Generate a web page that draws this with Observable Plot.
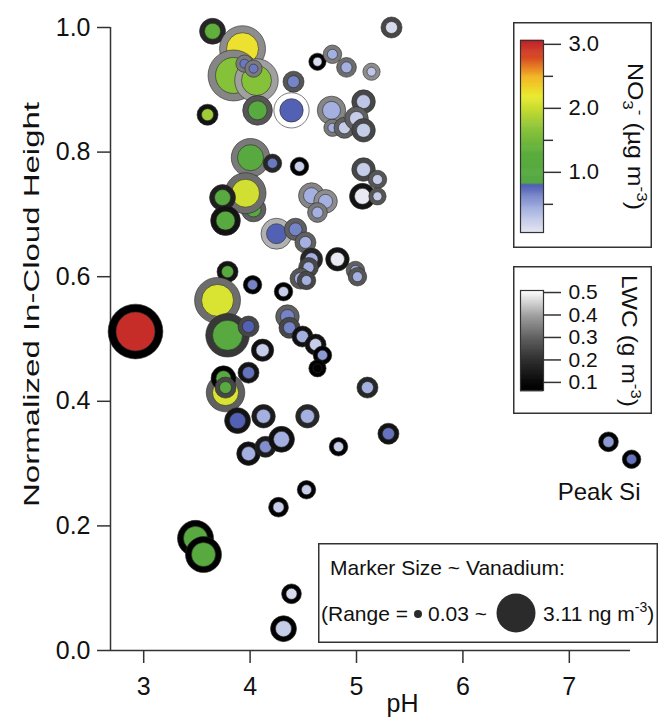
<!DOCTYPE html>
<html><head><meta charset="utf-8">
<script src="https://cdn.jsdelivr.net/npm/d3@7"></script>
<script src="https://cdn.jsdelivr.net/npm/@observablehq/plot@0.6"></script>
<style>
body{margin:0;background:#fff;}
#wrap{position:relative;width:665px;height:721px;font-family:"Liberation Sans",Arial,sans-serif;}
#wrap > *{position:absolute;}
</style></head><body><div id="wrap"></div>
<script>
// ---- data (drawing order) ----
const pH = [5.329,3.647,3.929,3.844,4.06,3.947,4.032,4.633,4.774,4.906,5.141,4.408,4.07,4.389,3.60,4.765,5.066,4.774,4.887,5.0,5.066,4.004,4.21,4.464,4.032,3.957,3.741,3.769,5.066,5.197,5.056,5.197,4.577,4.709,4.633,4.248,4.427,4.52,4.577,4.549,4.474,4.53,4.821,4.99,5.009,3.788,4.023,4.314,3.694,3.788,3.985,4.351,4.37,4.492,4.615,4.68,4.633,4.117,3.985,3.769,3.75,3.769,5.103,3.882,4.126,4.539,3.985,4.145,4.295,4.831,5.30,4.53,4.267,4.389,4.314,3.487,3.562,2.923,7.368,7.585];
const inCloudHeight = [1.0,0.994,0.966,0.923,0.915,0.942,0.934,0.945,0.957,0.936,0.929,0.913,0.867,0.867,0.860,0.867,0.881,0.839,0.839,0.854,0.835,0.791,0.782,0.777,0.708,0.734,0.727,0.690,0.772,0.756,0.729,0.729,0.730,0.721,0.703,0.669,0.676,0.655,0.628,0.615,0.597,0.594,0.628,0.610,0.600,0.608,0.587,0.576,0.562,0.506,0.520,0.536,0.518,0.504,0.491,0.474,0.453,0.482,0.446,0.414,0.437,0.422,0.422,0.369,0.376,0.376,0.316,0.327,0.339,0.327,0.348,0.258,0.230,0.091,0.035,0.180,0.154,0.512,0.335,0.307];
const no3 = [0.15,1.35,2.25,1.65,1.65,0.7,0.7,0.15,0.45,0.45,0.3,0.65,1.1,0.8,1.8,0.45,0.3,0.45,0.25,0.25,0.25,1.1,0.7,0.25,1.1,2.05,1.1,1.1,0.25,0.25,0.05,0.25,0.45,0.45,0.45,0.8,0.65,0.45,0.45,0.45,0.45,0.45,0.05,0.45,0.45,1.1,0.65,0.25,2.1,1.1,0.8,0.65,0.65,0.45,0.25,0.55,null,0.25,0.72,2.1,1.1,1.1,0.45,0.8,0.45,0.45,0.45,0.6,0.45,0.25,0.72,0.25,0.25,0.15,0.25,1.1,1.1,3.0,0.55,0.72];
const lwc = [0.25,0.18,0.37,0.36,0.40,0.34,0.34,0.07,0.34,0.32,0.37,0.28,0.28,0.51,0.13,0.36,0.25,0.34,0.30,0.30,0.25,0.34,0.18,0.07,0.30,0.32,0.16,0.13,0.25,0.28,0.13,0.28,0.36,0.37,0.34,0.42,0.30,0.30,0.18,0.25,0.28,0.25,0.13,0.30,0.28,0.13,0.07,0.07,0.32,0.22,0.25,0.30,0.25,0.12,0.12,0.07,0.07,0.12,0.13,0.30,0.07,0.25,0.18,0.13,0.15,0.18,0.12,0.15,0.12,0.07,0.13,0.07,0.07,0.07,0.07,0.07,0.07,0.065,0.07,0.07];
const vanadium = [0.43,0.82,2.41,2.81,2.22,0.13,0.13,0.13,0.23,0.33,0.13,0.43,1.12,1.56,0.43,1.02,0.63,0.13,0.43,0.63,0.63,1.82,0.23,0.23,0.73,2.02,0.82,1.12,0.63,0.23,0.82,0.13,0.82,0.63,0.33,1.22,0.53,0.43,0.53,0.33,0.43,0.23,0.63,0.23,0.23,0.43,0.23,0.23,2.41,2.22,0.43,0.63,0.43,0.43,0.43,0.23,0.13,0.53,0.43,1.82,0.73,0.43,0.43,0.82,0.63,0.63,0.63,0.43,0.82,0.23,0.43,0.23,0.33,0.33,0.82,1.62,1.62,3.11,0.33,0.23];

const xDomain = [2.688, 7.575];
const yDomain = [0, 1];
const xTicks = [3, 4, 5, 6, 7];
const yTicks = [0, 0.2, 0.4, 0.6, 0.8, 1.0];

const no3Stops  = [0.05, 0.45, 0.82, 0.83, 1.3, 1.7, 2.0, 2.2, 2.5, 2.8, 3.06];
const no3Colors = ["#e8e9f2", "#a4b0e0", "#4d5db2", "#55a845", "#5aac3c", "#8cc43a", "#c8dc32", "#eaea30", "#f2b424", "#d84a24", "#c0242a"];
const no3Domain = [0.06, 3.06];
const no3Ticks = [1, 2, 3];
const no3Minor = [0.5, 1.5, 2.5];

const lwcStops  = [0.064, 0.1, 0.2, 0.3, 0.4, 0.509];
const lwcColors = ["#000000", "#080808", "#2e2e2e", "#606060", "#a0a0a0", "#ffffff"];
const lwcDomain = [0.064, 0.509];
const lwcTicks = [0.1, 0.2, 0.3, 0.4, 0.5];

const vRange = [0.03, 3.11];
const annotations = [{x: 7.28, y: 0.254, text: "Peak Si"}];

// ---- scales from the library ----
const FONT = "'Liberation Sans', Arial, sans-serif";
const no3Scale = Plot.scale({color: {type: "linear", domain: no3Stops, range: no3Colors}});
const lwcScale = Plot.scale({color: {type: "linear", domain: lwcStops, range: lwcColors}});
const rScale = Plot.scale({r: {type: "linear", domain: vRange, range: [4, 19.5]}});

const layers = [];
pH.forEach((x, i) => {
  const rin = rScale.apply(vanadium[i]);
  const ring = lwcScale.apply(lwc[i]);
  layers.push({x, y: inCloudHeight[i], r: 3 + 1.25 * rin, fill: ring});
  layers.push({x, y: inCloudHeight[i], r: rin, fill: no3[i] == null ? ring : no3Scale.apply(no3[i])});
});

const wrap = document.getElementById("wrap");

const main = Plot.plot({
  width: 665, height: 721,
  marginLeft: 110, marginRight: 35, marginTop: 27, marginBottom: 71,
  style: {fontFamily: FONT, fontSize: "25px", color: "#111", background: "transparent", overflow: "visible"},
  x: {domain: xDomain, axis: null},
  y: {domain: yDomain, axis: null},
  color: {type: "identity"},
  r: {type: "linear", domain: [0, 40], range: [0, 40]},
  marks: [
    Plot.ruleX([xDomain[0]], {y1: yDomain[0], y2: yDomain[1], stroke: "#333", strokeWidth: 1.5}),
    Plot.ruleY([yDomain[0]], {x1: xDomain[0], x2: xDomain[1], stroke: "#333", strokeWidth: 1.5}),
    Plot.axisY({ticks: yTicks, tickFormat: d3.format(".1f"), tickSize: 13, tickPadding: 7, fontSize: 25, label: null, stroke: "#333", strokeWidth: 1.5}),
    Plot.axisX({ticks: xTicks, tickFormat: d3.format("d"), tickSize: 13, tickPadding: 14, fontSize: 25, label: null, stroke: "#333", strokeWidth: 1.5}),
    Plot.text(["Normalized In-Cloud Height"], {frameAnchor: "left", rotate: -90, textAnchor: "start", dx: -79, dy: 168, fontSize: 22, fill: "#111"}),
    Plot.text(["pH"], {frameAnchor: "bottom", dx: 32, dy: 61, fontSize: 25, fill: "#111"}),
    Plot.dot(layers, {x: "x", y: "y", r: "r", fill: "fill", stroke: "#2a2a2a", strokeWidth: 0.8, strokeOpacity: 0.75, sort: null}),
    Plot.text(annotations, {x: "x", y: "y", text: "text", fontSize: 24, fill: "#111"})
  ]
});
main.style.left = "0px"; main.style.top = "0px";
wrap.appendChild(main);
main.querySelectorAll("text").forEach(t => {
  if (t.textContent === "Normalized In-Cloud Height") {
    t.setAttribute("textLength", 405);
    t.setAttribute("lengthAdjust", "spacingAndGlyphs");
  }
});

function boxFrame(svg, w, h) {
  d3.select(svg).append("rect").attr("x", 0.75).attr("y", 0.75).attr("width", w - 1.5).attr("height", h - 1.5)
    .attr("fill", "none").attr("stroke", "#333").attr("stroke-width", 1.5);
}
function rotatedTitle(svg, parts, x, y, size, len) {
  const t = d3.select(svg).append("text").attr("transform", `translate(${x},${y}) rotate(90)`)
    .attr("text-anchor", "start").attr("font-size", size).attr("fill", "#111").attr("font-family", FONT);
  parts.forEach(p => t.append("tspan").attr("font-size", p.s || size).attr("dy", p.dy || 0).text(p.t));
  t.attr("textLength", len).attr("lengthAdjust", "spacingAndGlyphs");
}

// ---- NO3 colour bar ----
const no3Ramp = d3.range(0, 201).map(i => no3Domain[0] + (no3Domain[1] - no3Domain[0]) * i / 200);
const leg1 = Plot.plot({
  width: 139, height: 226, marginLeft: 7, marginRight: 109, marginTop: 18, marginBottom: 16,
  style: {fontFamily: FONT, color: "#111", background: "#fff", overflow: "visible"},
  x: {axis: null}, y: {domain: no3Domain, axis: null},
  color: {type: "linear", domain: no3Stops, range: no3Colors},
  marks: [
    Plot.ruleY(no3Ramp, {y: d => d, stroke: d => d, strokeWidth: 1.6}),
    Plot.frame({stroke: "#333", strokeWidth: 1.2}),
    Plot.axisY({anchor: "right", ticks: no3Ticks, tickFormat: d3.format(".1f"), tickSize: 17, tickPadding: 8, fontSize: 22, label: null, stroke: "#333", strokeWidth: 1.5}),
    Plot.axisY({anchor: "right", ticks: no3Minor, tickFormat: () => "", tickSize: 9, label: null, stroke: "#333", strokeWidth: 1.5})
  ]
});
boxFrame(leg1, 139, 226);
rotatedTitle(leg1, [{t: "NO"}, {t: "3", s: 15, dy: 5}, {t: "-", s: 15, dy: -12}, {t: " (µg m", dy: 7}, {t: "-3", s: 15, dy: -9}, {t: ")", dy: 9}], 115, 41, 22, 147);
leg1.style.left = "513px"; leg1.style.top = "22px";
wrap.appendChild(leg1);

// ---- LWC grey bar ----
const lwcRamp = d3.range(0, 121).map(i => lwcDomain[0] + (lwcDomain[1] - lwcDomain[0]) * i / 120);
const leg2 = Plot.plot({
  width: 139, height: 148, marginLeft: 7, marginRight: 109, marginTop: 24, marginBottom: 24,
  style: {fontFamily: FONT, color: "#111", background: "#fff", overflow: "visible"},
  x: {axis: null}, y: {domain: lwcDomain, axis: null},
  color: {type: "linear", domain: lwcStops, range: lwcColors},
  marks: [
    Plot.ruleY(lwcRamp, {y: d => d, stroke: d => d, strokeWidth: 1.6}),
    Plot.frame({stroke: "#333", strokeWidth: 1.2}),
    Plot.axisY({anchor: "right", ticks: lwcTicks, tickFormat: d3.format(".1f"), tickSize: 17, tickPadding: 8, fontSize: 21, label: null, stroke: "#333", strokeWidth: 1.5})
  ]
});
boxFrame(leg2, 139, 148);
rotatedTitle(leg2, [{t: "LWC (g m"}, {t: "-3", s: 15, dy: -9}, {t: ")", dy: 9}], 109, 9, 22, 132);
leg2.style.left = "513px"; leg2.style.top = "266px";
wrap.appendChild(leg2);

// ---- marker size legend ----
const leg3 = d3.create("svg").attr("width", 340).attr("height", 100)
  .attr("font-family", FONT).attr("font-size", 21).attr("fill", "#111").style("background", "#fff").node();
boxFrame(leg3, 340, 100);
const s3 = d3.select(leg3);
s3.append("text").attr("x", 12).attr("y", 32).text("Marker Size ~ Vanadium:");
s3.append("text").attr("x", 3).attr("y", 78).text("(Range =");
s3.append("circle").attr("cx", 100).attr("cy", 71).attr("r", rScale.apply(vRange[0])).attr("fill", "#2b2b2b");
s3.append("text").attr("x", 110).attr("y", 78).text(`${vRange[0].toFixed(2)} ~`);
s3.append("circle").attr("cx", 198).attr("cy", 70).attr("r", rScale.apply(vRange[1])).attr("fill", "#2b2b2b");
const t3 = s3.append("text").attr("x", 225).attr("y", 78);
t3.append("tspan").text(`${vRange[1].toFixed(2)} ng m`);
t3.append("tspan").attr("font-size", 14).attr("dy", -9).text("-3");
t3.append("tspan").attr("dy", 9).text(")");
leg3.style.left = "318px"; leg3.style.top = "543px";
wrap.appendChild(leg3);
</script></body></html>
